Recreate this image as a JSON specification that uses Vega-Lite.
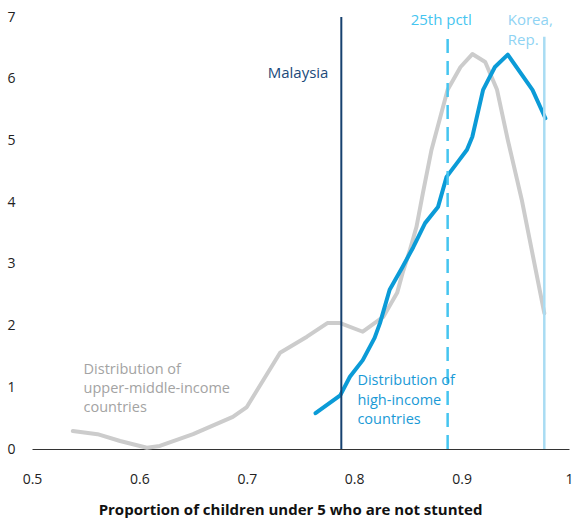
{
  "$schema": "https://vega.github.io/schema/vega-lite/v6.json",
  "width": 537,
  "height": 432,
  "autosize": "none",
  "padding": {"left": 32, "top": 17, "right": 7, "bottom": 73},
  "background": "white",
  "config": {"view": {"stroke": null}, "font": "Open Sans"},
  "datasets": {
    "curves": [
      {"series": "upper", "x": 0.538, "y": 0.29},
      {"series": "upper", "x": 0.561, "y": 0.24},
      {"series": "upper", "x": 0.582, "y": 0.13},
      {"series": "upper", "x": 0.607, "y": 0.02},
      {"series": "upper", "x": 0.619, "y": 0.05},
      {"series": "upper", "x": 0.650, "y": 0.24},
      {"series": "upper", "x": 0.687, "y": 0.52},
      {"series": "upper", "x": 0.700, "y": 0.68},
      {"series": "upper", "x": 0.731, "y": 1.56},
      {"series": "upper", "x": 0.756, "y": 1.82},
      {"series": "upper", "x": 0.775, "y": 2.04},
      {"series": "upper", "x": 0.787, "y": 2.04},
      {"series": "upper", "x": 0.808, "y": 1.90},
      {"series": "upper", "x": 0.827, "y": 2.14},
      {"series": "upper", "x": 0.840, "y": 2.53},
      {"series": "upper", "x": 0.845, "y": 2.85},
      {"series": "upper", "x": 0.852, "y": 3.23},
      {"series": "upper", "x": 0.858, "y": 3.60},
      {"series": "upper", "x": 0.864, "y": 4.15},
      {"series": "upper", "x": 0.872, "y": 4.85},
      {"series": "upper", "x": 0.887, "y": 5.82},
      {"series": "upper", "x": 0.899, "y": 6.19},
      {"series": "upper", "x": 0.910, "y": 6.40},
      {"series": "upper", "x": 0.922, "y": 6.27},
      {"series": "upper", "x": 0.933, "y": 5.82},
      {"series": "upper", "x": 0.943, "y": 5.01},
      {"series": "upper", "x": 0.956, "y": 4.04},
      {"series": "upper", "x": 0.977, "y": 2.20},
      {"series": "high", "x": 0.764, "y": 0.58},
      {"series": "high", "x": 0.787, "y": 0.87},
      {"series": "high", "x": 0.796, "y": 1.17},
      {"series": "high", "x": 0.808, "y": 1.44},
      {"series": "high", "x": 0.819, "y": 1.80},
      {"series": "high", "x": 0.824, "y": 2.04},
      {"series": "high", "x": 0.833, "y": 2.58},
      {"series": "high", "x": 0.845, "y": 2.95},
      {"series": "high", "x": 0.855, "y": 3.27},
      {"series": "high", "x": 0.866, "y": 3.66},
      {"series": "high", "x": 0.878, "y": 3.92},
      {"series": "high", "x": 0.886, "y": 4.41},
      {"series": "high", "x": 0.896, "y": 4.64},
      {"series": "high", "x": 0.905, "y": 4.85},
      {"series": "high", "x": 0.910, "y": 5.06},
      {"series": "high", "x": 0.920, "y": 5.82},
      {"series": "high", "x": 0.931, "y": 6.19},
      {"series": "high", "x": 0.943, "y": 6.39},
      {"series": "high", "x": 0.966, "y": 5.82},
      {"series": "high", "x": 0.978, "y": 5.36}
    ],
    "rules": [
      {"name": "Malaysia", "x": 0.788, "y0": 0, "y1": 7},
      {"name": "25th pctl", "x": 0.887, "y0": 0, "y1": 6.68},
      {"name": "Korea", "x": 0.977, "y0": 0, "y1": 6.68}
    ],
    "labels": [
      {"name": "Malaysia", "x": 0.776, "y": 6.09, "text": "Malaysia"},
      {"name": "25th pctl", "x": 0.881, "y": 6.95, "text": "25th pctl"},
      {"name": "Korea", "x": 0.943, "y": 7.07, "text": "Korea,\nRep."},
      {"name": "high", "x": 0.803, "y": 1.21, "text": "Distribution of\nhigh-income\ncountries"},
      {"name": "upper", "x": 0.548, "y": 1.39, "text": "Distribution of\nupper-middle-income\ncountries"}
    ]
  },
  "layer": [
    {
      "data": {"name": "curves"},
      "mark": {"type": "line", "strokeWidth": 4, "strokeCap": "round", "strokeJoin": "round"},
      "encoding": {
        "x": {
          "field": "x", "type": "quantitative",
          "scale": {"domain": [0.5, 1], "nice": false},
          "axis": {
            "values": [0.5, 0.6, 0.7, 0.8, 0.9, 1],
            "format": "~g",
            "grid": false, "ticks": false,
            "domainColor": "#333333", "domainWidth": 1,
            "labelFontSize": 14, "labelColor": "#222222", "labelPadding": 23,
            "labelFlush": false,
            "title": "Proportion of children under 5 who are not stunted",
            "titleFontSize": 15, "titleFontWeight": "bold", "titleColor": "#111111",
            "titlePadding": 16, "titleX": 258, "titleAlign": "center", "titleAnchor": "middle"
          }
        },
        "y": {
          "field": "y", "type": "quantitative",
          "scale": {"domain": [0, 7], "nice": false},
          "axis": {
            "values": [0, 1, 2, 3, 4, 5, 6, 7],
            "format": "d",
            "grid": false, "ticks": false, "domain": false,
            "labelFontSize": 14, "labelColor": "#222222", "labelPadding": 17,
            "title": null
          }
        },
        "detail": {"field": "series"},
        "color": {
          "field": "series", "type": "nominal",
          "scale": {"domain": ["upper", "high"], "range": ["#cccccc", "#0b9bd7"]},
          "legend": null
        }
      }
    },
    {
      "data": {"name": "rules"},
      "transform": [{"filter": "datum.name === 'Malaysia'"}],
      "mark": {"type": "rule", "color": "#16416f", "strokeWidth": 2},
      "encoding": {
        "x": {"field": "x", "type": "quantitative"},
        "y": {"field": "y0", "type": "quantitative"},
        "y2": {"field": "y1"}
      }
    },
    {
      "data": {"name": "rules"},
      "transform": [{"filter": "datum.name === '25th pctl'"}],
      "mark": {"type": "rule", "color": "#45c5f0", "strokeWidth": 2.5, "strokeDash": [14, 8]},
      "encoding": {
        "x": {"field": "x", "type": "quantitative"},
        "y": {"field": "y0", "type": "quantitative"},
        "y2": {"field": "y1"}
      }
    },
    {
      "data": {"name": "rules"},
      "transform": [{"filter": "datum.name === 'Korea'"}],
      "mark": {"type": "rule", "color": "#a9dcf3", "strokeWidth": 2.5},
      "encoding": {
        "x": {"field": "x", "type": "quantitative"},
        "y": {"field": "y0", "type": "quantitative"},
        "y2": {"field": "y1"}
      }
    },
    {
      "data": {"name": "labels"},
      "transform": [{"filter": "datum.name === 'Malaysia'"}],
      "mark": {"type": "text", "align": "right", "baseline": "middle", "fontSize": 15, "color": "#1c4a7a"},
      "encoding": {
        "x": {"field": "x", "type": "quantitative"},
        "y": {"field": "y", "type": "quantitative"},
        "text": {"field": "text"}
      }
    },
    {
      "data": {"name": "labels"},
      "transform": [{"filter": "datum.name === '25th pctl'"}],
      "mark": {"type": "text", "align": "center", "baseline": "middle", "fontSize": 15, "color": "#45c5f0"},
      "encoding": {
        "x": {"field": "x", "type": "quantitative"},
        "y": {"field": "y", "type": "quantitative"},
        "text": {"field": "text"}
      }
    },
    {
      "data": {"name": "labels"},
      "transform": [{"filter": "datum.name === 'Korea'"}],
      "mark": {"type": "text", "align": "left", "baseline": "top", "fontSize": 15, "lineBreak": "\n", "lineHeight": 20, "color": "#8fd3f3"},
      "encoding": {
        "x": {"field": "x", "type": "quantitative"},
        "y": {"field": "y", "type": "quantitative"},
        "text": {"field": "text"}
      }
    },
    {
      "data": {"name": "labels"},
      "transform": [{"filter": "datum.name === 'high'"}],
      "mark": {"type": "text", "align": "left", "baseline": "top", "fontSize": 14.5, "lineBreak": "\n", "lineHeight": 19.5, "color": "#1a9ad6"},
      "encoding": {
        "x": {"field": "x", "type": "quantitative"},
        "y": {"field": "y", "type": "quantitative"},
        "text": {"field": "text"}
      }
    },
    {
      "data": {"name": "labels"},
      "transform": [{"filter": "datum.name === 'upper'"}],
      "mark": {"type": "text", "align": "left", "baseline": "top", "fontSize": 14.5, "lineBreak": "\n", "lineHeight": 19, "color": "#a3a3a3"},
      "encoding": {
        "x": {"field": "x", "type": "quantitative"},
        "y": {"field": "y", "type": "quantitative"},
        "text": {"field": "text"}
      }
    }
  ]
}
